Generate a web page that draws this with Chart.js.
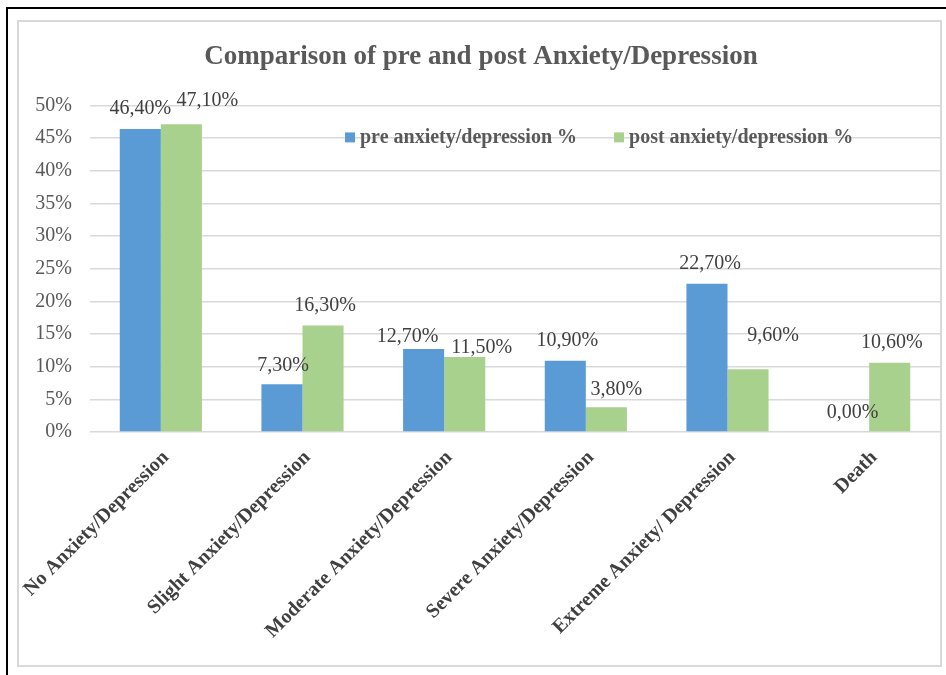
<!DOCTYPE html>
<html>
<head>
<meta charset="utf-8">
<script src="https://cdn.jsdelivr.net/npm/chart.js@4"></script>
<style>
  html, body { margin: 0; padding: 0; background: #fff; overflow: hidden; }
  #wrap { position: relative; width: 946px; height: 675px; overflow: hidden; }
  #outer { position: absolute; left: 6px; top: 7px; width: 1000px; height: 700px; border-top: 2px solid #000; border-left: 2px solid #000; }
  #inner { position: absolute; left: 17px; top: 20px; width: 921px; height: 643px; border: 2px solid #d9d9d9; }
  canvas { position: absolute; left: 0; top: 0; }
</style>
</head>
<body>
<div id="wrap">
  <div id="outer"></div>
  <div id="inner"></div>
  <canvas id="chart" width="946" height="675"></canvas>
</div>
<script>
const categories = [
    'No Anxiety/Depression',
    'Slight Anxiety/Depression',
    'Moderate Anxiety/Depression',
    'Severe Anxiety/Depression',
    'Extreme Anxiety/ Depression',
    'Death'
];
const preValues = [46.4, 7.3, 12.7, 10.9, 22.7, 0.0];
const postValues = [47.1, 16.3, 11.5, 3.8, 9.6, 10.6];
const seriesNames = ['pre anxiety/depression %', 'post anxiety/depression %'];

// Excel moved a few value labels around, keep the nudges here (dx, dy)
const labelNudge = [
    [[0, 0], [1, 1], [-16, 8], [2, 0], [3, 0], [4, 1]],
    [[26, -4], [2, 0], [17, 11], [10, 3], [25, -14], [2, 0]]
];

const serif = '"Liberation Serif", "Times New Roman", serif';
const fmt = v => v.toFixed(2).replace('.', ',') + '%';

const valueLabels = {
    id: 'valueLabels',
    afterDatasetsDraw(chart) {
        const ctx = chart.ctx;
        ctx.save();
        ctx.font = '20px ' + serif;
        ctx.fillStyle = '#404040';
        ctx.textAlign = 'center';
        ctx.textBaseline = 'middle';
        chart.data.datasets.forEach((ds, i) => {
            chart.getDatasetMeta(i).data.forEach((bar, j) => {
                const n = labelNudge[i][j];
                ctx.fillText(fmt(ds.data[j]), bar.x + n[0], bar.y - 20 + n[1]);
            });
        });
        ctx.restore();
    }
};

// legend sits inside the plot area, over the gridlines
const innerLegend = {
    id: 'innerLegend',
    afterDatasetsDraw(chart) {
        const ctx = chart.ctx;
        const area = chart.chartArea;
        let x = area.left + 255;
        const y = area.top + 32;
        ctx.save();
        ctx.font = 'bold 20px ' + serif;
        ctx.textBaseline = 'middle';
        ctx.textAlign = 'left';
        chart.data.datasets.forEach(ds => {
            ctx.fillStyle = ds.backgroundColor;
            ctx.fillRect(x, y - 5, 10, 10);
            ctx.fillStyle = '#595959';
            ctx.fillText(ds.label, x + 15, y);
            x += 15 + ctx.measureText(ds.label).width + 37;
        });
        ctx.restore();
    }
};

new Chart(document.getElementById('chart'), {
    type: 'bar',
    data: {
        labels: categories,
        datasets: [
            { label: seriesNames[0], data: preValues, backgroundColor: '#5b9bd5' },
            { label: seriesNames[1], data: postValues, backgroundColor: '#a9d18e' }
        ]
    },
    options: {
        responsive: false,
        animation: false,
        categoryPercentage: 0.58,
        barPercentage: 1.0,
        layout: { padding: { top: 20, left: 22, right: 6, bottom: 33 } },
        plugins: {
            legend: { display: false },
            tooltip: { enabled: false },
            title: {
                display: true,
                text: 'Comparison of pre and post Anxiety/Depression',
                color: '#595959',
                font: { family: serif, size: 27, weight: 'bold' },
                padding: { top: 21, bottom: 32 }
            }
        },
        scales: {
            x: {
                grid: { display: false, drawTicks: false },
                border: { display: false },
                ticks: {
                    color: '#404040',
                    font: { family: serif, size: 20, weight: 'bold' },
                    maxRotation: 45,
                    minRotation: 45,
                    autoSkip: false,
                    padding: 14,
                    labelOffset: 5
                },
                afterFit(scale) { scale.height = 210; }
            },
            y: {
                min: 0,
                max: 50,
                grid: { color: '#d9d9d9', lineWidth: 1.5, drawTicks: false },
                border: { display: false },
                ticks: {
                    stepSize: 5,
                    color: '#595959',
                    font: { family: serif, size: 20 },
                    padding: 18,
                    callback: v => v + '%'
                },
                afterFit(scale) { scale.width = 68; }
            }
        }
    },
    plugins: [valueLabels, innerLegend]
});
</script>
</body>
</html>
